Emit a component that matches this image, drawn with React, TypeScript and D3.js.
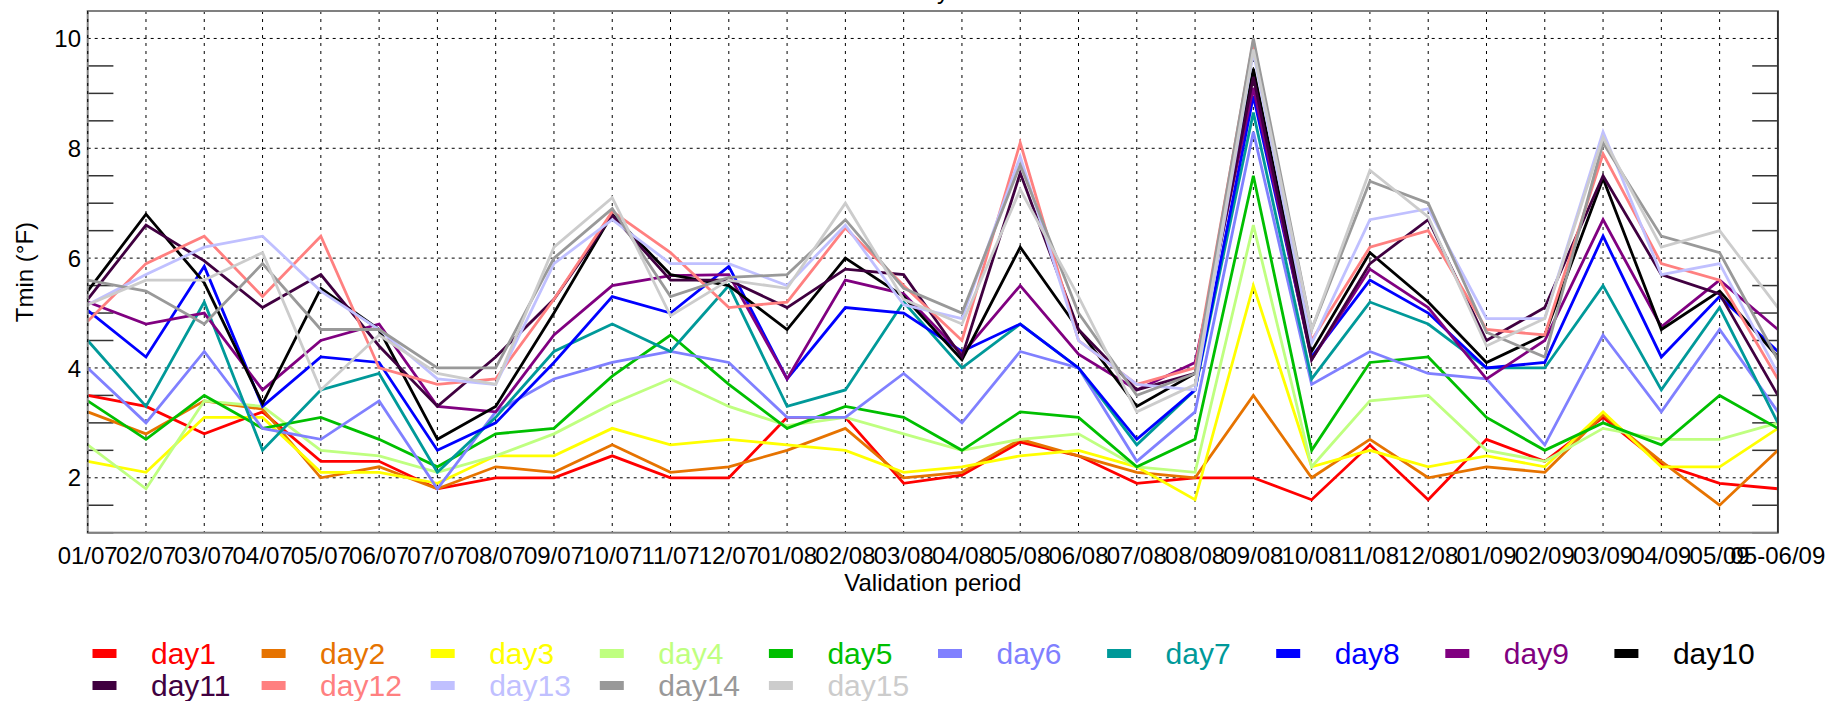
import React from 'react';
import * as d3 from 'd3';

const categories = ['01/07','02/07','03/07','04/07','05/07','06/07','07/07','08/07','09/07','10/07','11/07','12/07',
  '01/08','02/08','03/08','04/08','05/08','06/08','07/08','08/08','09/08','10/08','11/08','12/08',
  '01/09','02/09','03/09','04/09','05/09','05-06/09'];

const seriesNames = ['day1','day2','day3','day4','day5','day6','day7','day8','day9','day10','day11','day12','day13','day14','day15'];
const seriesColors = ['#ff0000','#e67300','#ffff00','#bfff80','#00bf00','#8080ff','#009999','#0000ff','#800080','#000000','#400040','#ff8080','#c0c0ff','#999999','#cccccc'];

const day1 = [3.5,3.3,2.8,3.2,2.3,2.3,1.8,2.0,2.0,2.4,2.0,2.0,3.1,3.1,1.9,2.05,2.65,2.4,1.9,2.0,2.0,1.6,2.6,1.6,2.7,2.3,3.1,2.25,1.9,1.8];
const day2 = [3.2,2.8,3.4,3.25,2.0,2.2,1.8,2.2,2.1,2.6,2.1,2.2,2.5,2.9,2.0,2.1,2.7,2.4,2.1,2.0,3.5,2.0,2.7,2.0,2.2,2.1,3.15,2.3,1.5,2.5];
const day3 = [2.3,2.1,3.1,3.1,2.1,2.1,1.9,2.4,2.4,2.9,2.6,2.7,2.6,2.5,2.1,2.2,2.4,2.5,2.2,1.6,5.5,2.2,2.5,2.2,2.4,2.2,3.2,2.2,2.2,2.9];
const day4 = [2.6,1.8,3.4,3.3,2.5,2.4,2.1,2.4,2.8,3.35,3.8,3.3,2.95,3.1,2.8,2.5,2.7,2.8,2.2,2.1,6.6,2.2,3.4,3.5,2.5,2.3,2.9,2.7,2.7,3.0];
const day5 = [3.4,2.7,3.5,2.9,3.1,2.7,2.2,2.8,2.9,3.85,4.6,3.7,2.9,3.3,3.1,2.5,3.2,3.1,2.2,2.7,7.5,2.5,4.1,4.2,3.1,2.5,3.0,2.6,3.5,2.9];
const day6 = [4.0,3.0,4.3,2.9,2.7,3.4,1.8,3.2,3.8,4.1,4.3,4.1,3.1,3.1,3.9,3.0,4.3,4.0,2.3,3.2,8.3,3.7,4.3,3.9,3.8,2.6,4.6,3.2,4.7,3.2];
const day7 = [4.5,3.3,5.2,2.5,3.6,3.9,2.1,3.1,4.3,4.8,4.3,5.5,3.3,3.6,5.2,4.0,4.8,4.0,2.6,3.6,8.65,3.8,5.2,4.8,4.0,4.0,5.5,3.6,5.1,3.0];
const day8 = [5.05,4.2,5.85,3.3,4.2,4.1,2.5,3.0,4.1,5.3,5.0,5.85,3.8,5.1,5.0,4.3,4.8,4.0,2.7,3.6,8.95,4.2,5.6,5.0,4.0,4.1,6.4,4.2,5.3,4.3];
const day9 = [5.2,4.8,5.0,3.6,4.5,4.8,3.3,3.2,4.6,5.5,5.68,5.7,3.8,5.6,5.35,4.25,5.5,4.25,3.6,4.1,9.1,4.15,5.8,5.1,3.8,4.5,6.7,4.75,5.6,4.7];
const day10 = [5.4,6.8,5.55,3.35,5.45,4.7,2.7,3.3,5.0,6.8,5.7,5.5,4.7,6.0,5.3,4.15,6.2,4.7,3.3,3.9,9.45,4.3,6.1,5.2,4.1,4.6,7.45,4.7,5.4,4.2];
const day11 = [5.25,6.6,5.95,5.1,5.7,4.4,3.3,4.2,5.25,6.78,5.6,5.6,5.1,5.8,5.7,4.2,7.55,4.7,3.6,3.9,9.3,4.15,5.9,6.7,4.5,5.1,7.5,5.7,5.35,3.5];
const day12 = [4.85,5.9,6.4,5.3,6.4,4.0,3.7,3.8,5.25,6.85,6.1,5.1,5.2,6.55,5.5,4.5,8.1,4.5,3.7,4.0,9.95,4.5,6.2,6.5,4.7,4.6,7.9,5.9,5.6,3.8];
const day13 = [5.15,5.7,6.2,6.4,5.4,4.7,3.8,3.7,5.9,6.7,5.9,5.9,5.5,6.6,5.15,4.9,7.85,4.5,3.7,3.6,9.75,4.45,6.7,6.9,4.9,4.9,8.3,5.7,5.9,3.9];
const day14 = [5.6,5.4,4.8,5.9,4.7,4.7,4.0,4.0,6.0,6.9,5.3,5.65,5.7,6.7,5.45,5.0,7.7,5.0,3.5,3.9,10.0,4.7,7.4,7.0,4.65,4.2,8.1,6.4,6.1,4.15];
const day15 = [5.15,5.6,5.6,6.1,3.6,4.6,3.9,3.7,6.2,7.1,4.95,5.6,5.45,7.0,5.25,4.8,7.25,5.3,3.2,3.7,9.8,4.7,7.6,6.75,4.4,4.9,8.2,6.2,6.5,5.1];

const seriesValues = [day1,day2,day3,day4,day5,day6,day7,day8,day9,day10,day11,day12,day13,day14,day15];

const yMajorTicks = [2, 4, 6, 8, 10];
const yTitle = 'Tmin (°F)';
const xTitle = 'Validation period';

const W = 1831, H = 701;
const L = 87.7, R = 1777.9, T = 11, B = 532.7;
const FONT = '"Liberation Sans", Arial, Helvetica, sans-serif';

export default function App() {
  const x = d3.scalePoint<string>().domain(categories).range([L, R]);
  const y = d3.scaleLinear().domain([1, 10.5]).range([B, T]);
  const line = d3.line<number>().x((_, i) => x(categories[i]) as number).y(d => y(d));
  const minor = d3.range(1, 10.51, 0.5).filter(v => !yMajorTicks.includes(v));

  return (
    <svg width={W} height={H} style={{ position: 'absolute', left: 0, top: 0, background: '#fff' }} fontFamily={FONT}>
      <rect x={0} y={0} width={W} height={H} fill="#fff" />
      <text x={943} y={-1} fontSize={24} textAnchor="middle" fill="#000">y</text>
      {/* gridlines */}
      {categories.map(c => (
        <line key={'gx' + c} x1={x(c)} x2={x(c)} y1={T} y2={B} stroke="#000" strokeWidth={1} strokeDasharray="3,5" />
      ))}
      {yMajorTicks.map(v => (
        <line key={'gy' + v} x1={L} x2={R} y1={y(v)} y2={y(v)} stroke="#000" strokeWidth={1} strokeDasharray="3,4" />
      ))}
      {/* minor ticks */}
      {minor.map(v => (
        <g key={'mt' + v}>
          <line x1={L} x2={L + 25.7} y1={y(v)} y2={y(v)} stroke="#333" strokeWidth={1.5} />
          <line x1={R - 25.7} x2={R} y1={y(v)} y2={y(v)} stroke="#333" strokeWidth={1.5} />
        </g>
      ))}
      {/* series */}
      {seriesValues.map((vals, i) => (
        <path key={'s' + i} d={line(vals) || ''} fill="none" stroke={seriesColors[i]} strokeWidth={2.8} strokeLinejoin="miter" />
      ))}
      {/* frame */}
      <rect x={L} y={T} width={R - L} height={B - T} fill="none" stroke="#808080" strokeWidth={2} />
      <line x1={L} x2={L} y1={T} y2={B} stroke="#000" strokeWidth={1} strokeDasharray="3,5" />
      <line x1={R} x2={R} y1={T} y2={B} stroke="#222" strokeWidth={1.5} />
      {/* y tick labels */}
      {yMajorTicks.map(v => (
        <text key={'yl' + v} x={81} y={y(v)} dy="0.36em" fontSize={24} textAnchor="end" fill="#000">{v}</text>
      ))}
      {/* x tick labels */}
      {categories.map(c => (
        <text key={'xl' + c} x={x(c)} y={564} fontSize={24} textAnchor="middle" fill="#000">{c}</text>
      ))}
      <text x={(L + R) / 2} y={591} fontSize={24} textAnchor="middle" fill="#000">{xTitle}</text>
      <text transform="translate(33,272) rotate(-90)" fontSize={24} textAnchor="middle" fill="#000">{yTitle}</text>
      {/* legend */}
      {seriesNames.map((n, i) => {
        const col = i % 10;
        const row = Math.floor(i / 10);
        const lx = 92.5 + col * 169.1;
        const ly = 649 + row * 32;
        return (
          <g key={'lg' + n}>
            <rect x={lx} y={ly} width={24} height={9} fill={seriesColors[i]} />
            <text x={lx + 58.5} y={ly + 14.5} fontSize={30} fill={seriesColors[i]}>{n}</text>
          </g>
        );
      })}
    </svg>
  );
}
